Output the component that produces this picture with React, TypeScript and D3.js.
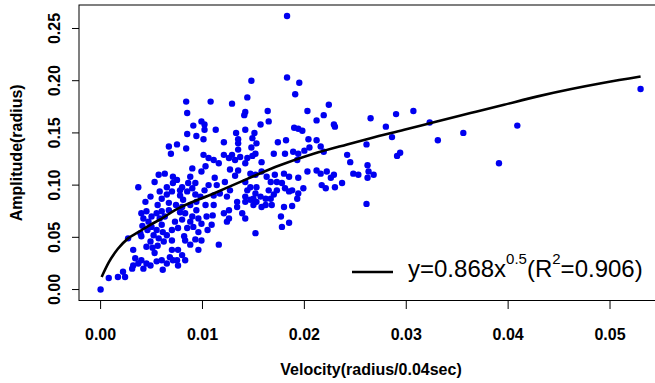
import React from "react";
import * as d3 from "d3";

const velocity: number[] = [
  0.0000, 0.0008, 0.0017, 0.0022, 0.0024, 0.0031, 0.0032, 0.0037, 0.0027, 0.0040,
  0.0039, 0.0037, 0.0044, 0.0049, 0.0053, 0.0060, 0.0065, 0.0067, 0.0070, 0.0065,
  0.0071, 0.0040, 0.0045, 0.0042, 0.0047, 0.0050, 0.0055, 0.0060, 0.0063, 0.0067,
  0.0050, 0.0055, 0.0060, 0.0052, 0.0057, 0.0062, 0.0049, 0.0070, 0.0065, 0.0032,
  0.0034, 0.0040, 0.0045, 0.0042, 0.0049, 0.0055, 0.0060, 0.0065, 0.0071, 0.0053,
  0.0070, 0.0068, 0.0061, 0.0041, 0.0057, 0.0063, 0.0071, 0.0067, 0.0069, 0.0058,
  0.0074, 0.0076, 0.0082, 0.0070, 0.0056, 0.0045,
  0.0056, 0.0061, 0.0051, 0.0058, 0.0046,
  // region B
  0.0183, 0.0148, 0.0084, 0.0108, 0.0129, 0.0144, 0.0085, 0.0142, 0.0141, 0.0099,
  0.0102, 0.0091, 0.0102, 0.0113, 0.0142, 0.0133, 0.0151, 0.0085, 0.0094, 0.0101,
  0.0135, 0.0149, 0.0135, 0.0153, 0.0121, 0.0075, 0.0084, 0.0135, 0.0148, 0.0101,
  0.0106, 0.0111, 0.0116, 0.0121, 0.0126, 0.0129, 0.0132, 0.0137, 0.0142, 0.0149,
  0.0090, 0.0099, 0.0127, 0.0135, 0.0112, 0.0132, 0.0152, 0.0144, 0.0103, 0.0088,
  0.0093, 0.0080, 0.0085, 0.0075, 0.0078, 0.0086, 0.0090, 0.0078, 0.0093, 0.0098,
  0.0106, 0.0114, 0.0122, 0.0127, 0.0117, 0.0142, 0.0147, 0.0152, 0.0142, 0.0147,
  0.0080, 0.0088, 0.0094, 0.0103, 0.0111, 0.0083, 0.0090, 0.0096, 0.0104, 0.0088,
  0.0099, 0.0091, 0.0080, 0.0121, 0.0126, 0.0124, 0.0139, 0.0142, 0.0134, 0.0109,
  0.0152, 0.0093, 0.0088, 0.0096, 0.0116, 0.0076, 0.0080, 0.0075, 0.0083, 0.0076,
  0.0126, 0.0134, 0.0124, 0.0099, 0.0147, 0.0144,
  0.0081, 0.0094, 0.0102, 0.0085, 0.0096, 0.0105, 0.0110, 0.0078, 0.0073, 0.0083,
  0.0111,
  // region C
  0.0157, 0.0164, 0.0165, 0.0190, 0.0194, 0.0198, 0.0174, 0.0182, 0.0204, 0.0212,
  0.0203, 0.0224, 0.0219, 0.0212, 0.0229, 0.0230, 0.0183, 0.0195, 0.0191, 0.0216,
  0.0205, 0.0152, 0.0219, 0.0200, 0.0170, 0.0181, 0.0189, 0.0194, 0.0193, 0.0158,
  0.0163, 0.0171, 0.0180, 0.0185, 0.0194, 0.0203, 0.0212, 0.0216, 0.0222, 0.0226,
  0.0230, 0.0217, 0.0199, 0.0188, 0.0193, 0.0181, 0.0173, 0.0165, 0.0162, 0.0157,
  0.0153, 0.0162, 0.0180, 0.0188, 0.0177, 0.0178, 0.0185, 0.0173, 0.0153, 0.0158,
  0.0229, 0.0221, 0.0237, 0.0167, 0.0178, 0.0185, 0.0194, 0.0150, 0.0167, 0.0170,
  0.0142, 0.0150, 0.0158, 0.0168,
  // region D
  0.0242, 0.0245, 0.0262, 0.0263, 0.0268, 0.0248, 0.0253, 0.0262, 0.0261, 0.0265,
  0.0261, 0.0290, 0.0307, 0.0280, 0.0286, 0.0323, 0.0331, 0.0356, 0.0409, 0.0391,
  0.0291, 0.0294, 0.0530,
];

const amplitude: number[] = [
  0.000, 0.011, 0.012, 0.017, 0.012, 0.020, 0.023, 0.025, 0.049, 0.051,
  0.054, 0.098, 0.084, 0.089, 0.103, 0.087, 0.091, 0.083, 0.094, 0.098,
  0.102, 0.073, 0.075, 0.068, 0.065, 0.070, 0.073, 0.075, 0.070, 0.076,
  0.060, 0.057, 0.062, 0.052, 0.049, 0.046, 0.046, 0.057, 0.052, 0.038,
  0.030, 0.028, 0.025, 0.020, 0.023, 0.027, 0.028, 0.025, 0.028, 0.035,
  0.038, 0.031, 0.019, 0.061, 0.110, 0.111, 0.108, 0.137, 0.130, 0.094,
  0.081, 0.059, 0.051, 0.047, 0.042, 0.041,
  0.081, 0.055, 0.040, 0.068, 0.057,
  // region B
  0.262, 0.200, 0.180, 0.180, 0.178, 0.184, 0.169, 0.170, 0.167, 0.161,
  0.158, 0.157, 0.153, 0.153, 0.153, 0.150, 0.150, 0.149, 0.147, 0.144,
  0.144, 0.145, 0.140, 0.140, 0.141, 0.139, 0.135, 0.134, 0.136, 0.129,
  0.126, 0.124, 0.121, 0.129, 0.126, 0.129, 0.124, 0.127, 0.121, 0.128,
  0.116, 0.113, 0.115, 0.114, 0.107, 0.109, 0.110, 0.126, 0.118, 0.108,
  0.102, 0.098, 0.094, 0.105, 0.095, 0.102, 0.097, 0.090, 0.091, 0.089,
  0.100, 0.100, 0.103, 0.095, 0.092, 0.103, 0.098, 0.092, 0.089, 0.086,
  0.079, 0.081, 0.076, 0.081, 0.081, 0.073, 0.070, 0.068, 0.070, 0.065,
  0.063, 0.060, 0.067, 0.073, 0.068, 0.065, 0.073, 0.068, 0.079, 0.062,
  0.054, 0.048, 0.043, 0.038, 0.043, 0.038, 0.033, 0.028, 0.028, 0.023,
  0.076, 0.084, 0.089, 0.047, 0.111, 0.095,
  0.086, 0.084, 0.095, 0.059, 0.055, 0.057, 0.071, 0.074, 0.065, 0.047,
  0.090,
  // region C
  0.158, 0.171, 0.161, 0.155, 0.154, 0.152, 0.141, 0.143, 0.144, 0.143,
  0.171, 0.177, 0.167, 0.162, 0.158, 0.156, 0.203, 0.198, 0.187, 0.137,
  0.136, 0.130, 0.132, 0.133, 0.130, 0.130, 0.132, 0.130, 0.124, 0.122,
  0.108, 0.110, 0.111, 0.108, 0.107, 0.113, 0.114, 0.111, 0.113, 0.107,
  0.098, 0.100, 0.097, 0.095, 0.087, 0.097, 0.095, 0.095, 0.087, 0.089,
  0.084, 0.081, 0.079, 0.080, 0.070, 0.060, 0.064, 0.103, 0.098, 0.113,
  0.110, 0.097, 0.102, 0.103, 0.102, 0.094, 0.092, 0.087, 0.087, 0.091,
  0.084, 0.081, 0.079, 0.081,
  // region D
  0.129, 0.122, 0.119, 0.113, 0.110, 0.111, 0.110, 0.107, 0.082, 0.164,
  0.139, 0.168, 0.171, 0.156, 0.146, 0.160, 0.143, 0.150, 0.157, 0.121,
  0.128, 0.131, 0.192,
];

// fitted curve y = 0.868 x^0.5
const fitX: number[] = [
  0.0001, 0.0008, 0.0017, 0.0027, 0.0037, 0.0047, 0.0060, 0.0073, 0.0111, 0.0144,
  0.0176, 0.0209, 0.0242, 0.0265, 0.0298, 0.0330, 0.0363, 0.0396, 0.0429, 0.0462,
  0.0494, 0.0530,
];
const fitY: number[] = [
  0.012, 0.026, 0.039, 0.049, 0.055, 0.061, 0.068, 0.076, 0.092, 0.106,
  0.119, 0.130, 0.139, 0.145, 0.153, 0.161, 0.169, 0.177, 0.185, 0.192,
  0.198, 0.204,
];

const xTicks: number[] = [0, 0.01, 0.02, 0.03, 0.04, 0.05];
const yTicks: number[] = [0, 0.05, 0.1, 0.15, 0.2, 0.25];
const xTitle = "Velocity(radius/0.04sec)";
const yTitle = "Amplitude(radius)";

export default function App() {
  const W = 655, H = 383;
  const left = 79, top = 5, bottom = 300.5, right = 663;
  const x = d3.scaleLinear().domain([-0.00212, 0.0552]).range([left, right]);
  const y = d3.scaleLinear().domain([-0.0105, 0.2725]).range([bottom, top]);
  const line = d3
    .line<number>()
    .x((_, i) => x(fitX[i]))
    .y((d) => y(d))
    .curve(d3.curveMonotoneX);
  const font = "'Liberation Sans', Arial, Helvetica, sans-serif";
  return (
    <svg
      width={W}
      height={H}
      style={{ position: "absolute", left: 0, top: 0, background: "#fff" }}
      fontFamily={font}
    >
      <rect x={0} y={0} width={W} height={H} fill="#fff" />
      {velocity.map((v, i) => (
        <circle key={i} cx={x(v)} cy={y(amplitude[i])} r={3.2} fill="#0000f0" />
      ))}
      <path d={line(fitY) || ""} fill="none" stroke="#000" strokeWidth={2.6} />
      <rect x={left} y={top} width={right - left} height={bottom - top} fill="none" stroke="#000" strokeWidth={1} />
      {xTicks.map((t) => (
        <g key={t}>
          <line x1={x(t)} x2={x(t)} y1={bottom} y2={bottom + 8.5} stroke="#000" />
          <text x={x(t)} y={340} textAnchor="middle" fontSize={16} fontWeight="bold">
            {t.toFixed(2)}
          </text>
        </g>
      ))}
      {yTicks.map((t) => (
        <g key={t}>
          <line x1={left - 7} x2={left} y1={y(t)} y2={y(t)} stroke="#000" />
          <text
            transform={`translate(60,${y(t)}) rotate(-90)`}
            textAnchor="middle"
            fontSize={16}
            fontWeight="bold"
          >
            {t.toFixed(2)}
          </text>
        </g>
      ))}
      <text x={(left + right) / 2} y={375} textAnchor="middle" fontSize={16} fontWeight="bold">
        {xTitle}
      </text>
      <text
        transform={`translate(22,${(top + bottom) / 2}) rotate(-90)`}
        textAnchor="middle"
        fontSize={16}
        fontWeight="bold"
      >
        {yTitle}
      </text>
      <line x1={352} x2={393} y1={272} y2={272} stroke="#000" strokeWidth={2.6} />
      <text x={408} y={277} fontSize={24}>
        <tspan>y=0.868x</tspan>
        <tspan fontSize={15} dy={-13}>0.5</tspan>
        <tspan dy={13}>(R</tspan>
        <tspan fontSize={15} dy={-13}>2</tspan>
        <tspan dy={13}>=0.906)</tspan>
      </text>
    </svg>
  );
}
